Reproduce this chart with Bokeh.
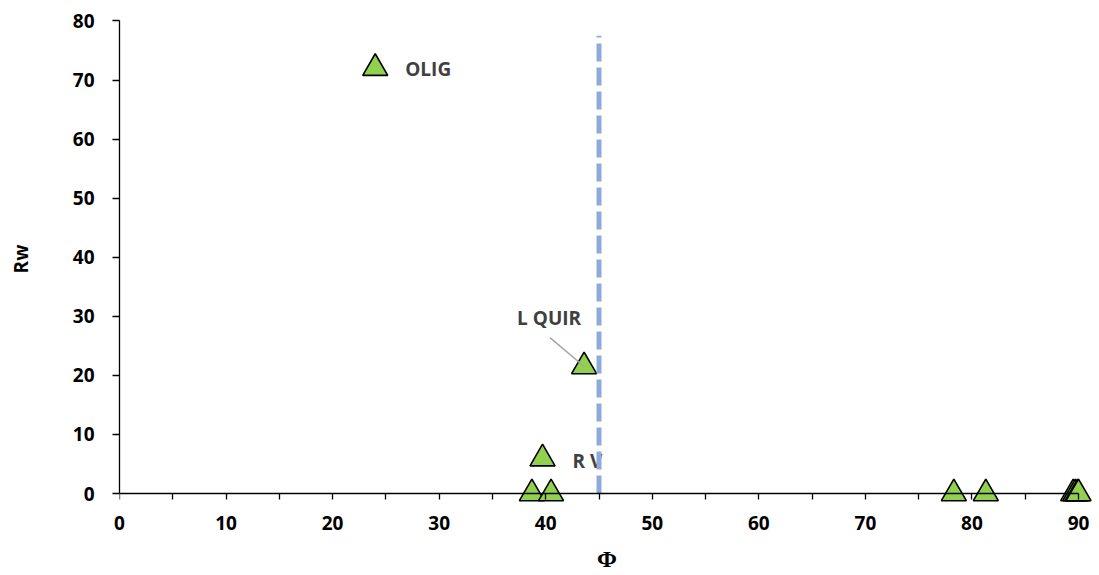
from bokeh.plotting import figure
from bokeh.models import Range1d, SingleIntervalTicker, FixedTicker, LinearAxis, ColumnDataSource
from bokeh.core.properties import value
from bokeh.embed import file_html
from bokeh.resources import INLINE

# ---- data ----
phi = [24.0, 43.6, 39.7, 38.7, 40.5, 78.3, 81.3, 89.5, 89.7, 89.9, 90.0]
rw = [72.0, 21.5, 5.9, 0.0, 0.0, 0.0, 0.0, 0.0, 0.0, 0.0, 0.0]

label_names = ["OLIG", "L QUIR", "R V"]
label_phi = [24.0, 43.6, 39.7]
label_rw = [72.0, 21.5, 5.9]

threshold_phi = 45.0
threshold_top = 77.5

x_max = 90
y_max = 80
x_interval = 10
y_interval = 10
x_tick_marks = list(range(0, x_max + 1, x_interval // 2))

# ---- annotation placement (screen offsets) ----
label_dx = [30, -35, 30]
label_dy = [1, -49, 2]
label_align = ["left", "center", "left"]
leader_dx, leader_dy = -3.2, 4.9   # leader start relative to "L QUIR" point

FONT = "Open Sans"

p = figure(frame_width=975, frame_height=495,
           x_range=Range1d(0, 91.5), y_range=Range1d(-2.2, 81.6),
           output_backend="svg", toolbar_location=None,
           min_border_left=119, min_border_right=5,
           min_border_top=11, min_border_bottom=69)
p.outline_line_color = None
p.grid.visible = False
p.background_fill_color = "white"

# x axis tick labels + title (at frame bottom, no line / ticks)
xl = p.xaxis[0]
xl.bounds = (0, x_max)
xl.ticker = SingleIntervalTicker(interval=x_interval, num_minor_ticks=2)
xl.axis_line_color = None
xl.major_tick_line_color = None
xl.minor_tick_line_color = None
xl.major_tick_out = 0
xl.major_tick_in = 0
xl.minor_tick_out = 0
xl.minor_tick_in = 0
xl.major_label_text_font = FONT
xl.major_label_text_font_style = "bold"
xl.major_label_text_font_size = "19px"
xl.major_label_text_color = "black"
xl.major_label_standoff = 9
xl.axis_label = "Φ"
xl.axis_label_text_font = "Liberation Serif"
xl.axis_label_text_font_style = "bold"
xl.axis_label_text_font_size = "24px"
xl.axis_label_text_color = "black"
xl.axis_label_standoff = 13

# x axis line and tick marks drawn at Rw = 0 (tick marks only, no labels)
xf = LinearAxis(fixed_location=0, bounds=(0, x_max),
                ticker=FixedTicker(ticks=[], minor_ticks=x_tick_marks))
xf.major_tick_in = 0
xf.major_tick_out = 0
xf.minor_tick_in = 6
xf.minor_tick_out = 0
xf.axis_line_width = 1.3
xf.minor_tick_line_width = 1.3
xf.major_label_standoff = 0
p.add_layout(xf, "above")

ya = p.yaxis[0]
ya.bounds = (0, y_max)
ya.ticker = SingleIntervalTicker(interval=y_interval, num_minor_ticks=0)
ya.major_tick_out = 7
ya.major_tick_in = 0
ya.minor_tick_line_color = None
ya.axis_line_width = 1.3
ya.major_tick_line_width = 1.3
ya.major_label_text_font = FONT
ya.major_label_text_font_style = "bold"
ya.major_label_text_font_size = "19px"
ya.major_label_text_color = "black"
ya.major_label_standoff = 18
ya.axis_label = "Rw"
ya.axis_label_text_font = FONT
ya.axis_label_text_font_style = "bold"
ya.axis_label_text_font_size = "19px"
ya.axis_label_text_color = "black"
ya.axis_label_standoff = 36

p.scatter(phi, rw, marker="triangle", size=25, fill_color="#92D050",
          line_color="black", line_width=1.6)

# leader line for L QUIR
p.segment(x0=[label_phi[1] + leader_dx], y0=[label_rw[1] + leader_dy],
          x1=[label_phi[1]], y1=[label_rw[1]], line_color="#A6A6A6", line_width=1.5)

src = ColumnDataSource(dict(x=label_phi, y=label_rw, text=label_names,
                            dx=label_dx, dy=label_dy, align=label_align))
p.text(x="x", y="y", text="text", x_offset="dx", y_offset="dy", text_align="align",
       text_baseline="middle", text_font=value(FONT), text_font_style="bold",
       text_font_size="19px", text_color="#404040", source=src)

p.line([threshold_phi, threshold_phi], [0, threshold_top], line_color="#8EAADB",
       line_width=5, line_dash="18 6")

open("out.html", "w").write(file_html(p, INLINE))
